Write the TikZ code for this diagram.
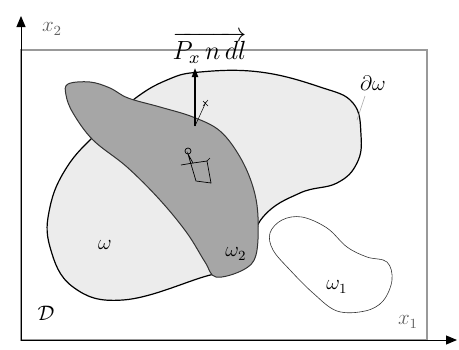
\documentclass[tikz,border=0pt]{standalone}
\usepackage{amsmath}
\usetikzlibrary{positioning, arrows.meta}

\begin{document}
\begin{tikzpicture}[
  x=1pt, y=-1pt,
  region/.style={draw=black, line width=1.2pt, fill=#1},
  region/.default={gray!15},
  lbl/.style={font=\large, scale=1.75, inner sep=1pt},
  >={Triangle[length=11pt, width=9pt]}
]
  \useasboundingbox (0,0) rectangle (459,349);
  % domain D and axes
  \draw[gray!80, line width=1.3pt] (21,50) rectangle (427,340);
  \draw[->, line width=1pt] (21,340) -- (21,16);
  \draw[->, line width=1pt] (21,340) -- (457,340);
  \node[lbl, text=gray!75!black] (xtwo) at (52,29) {$x_2$};
  \node[lbl, text=gray!75!black] (xone) at (408,322) {$x_1$};
  \node[lbl] (dom) at (46,313) {$\mathcal{D}$};
  % big region omega
  \draw[region] plot[smooth cycle, tension=0.7] coordinates {
    (200,72) (260,72) (320,87) (353,103) (361,135) (357,163) (337,183)
    (300,193) (263,217) (240,262) (200,278) (123,300) (73,287) (50,247)
    (50,207) (67,167) (97,133) (133,100) (167,80)};
  % omega 2
  \draw[region=gray!70, draw=black!80, line width=1pt] plot[smooth cycle, tension=0.6] coordinates {
    (68,84) (90,82) (110,88) (128,98) (160,107) (193,117) (220,131)
    (240,157) (253,187) (258,217) (256,255) (243,270) (216,277)
    (205,262) (187,233) (160,200) (127,167) (93,140) (73,113) (66,95)};
  % omega 1
  \draw[black!80, line width=0.6pt] plot[smooth cycle, tension=0.6] coordinates {
    (270,233) (282,220) (302,217) (327,228) (347,247) (367,257) (387,262)
    (392,280) (383,301) (365,311) (337,311) (313,293) (290,270) (273,250)};
  % labels
  \node[lbl] (om) at (105,245) {$\omega$};
  \node[lbl] (omtwo) at (236,254) {$\omega_2$};
  \node[lbl] (omone) at (337,287) {$\omega_1$};
  \node[lbl] (bd) at (373,83) {$\partial\omega$};
  \coordinate (bdfoot) at (357,120);
  \draw[gray!70, line width=0.6pt] (365,96) -- (bdfoot);
  % flux arrow and hand note
  \coordinate (foot) at (195,126);
  \node[lbl, scale=1.25, anchor=south west] (flux) at (170,66) {$\overrightarrow{P_x\,n\,dl}$};
  \draw[-{Triangle[length=9pt, width=6pt]}, line width=1.8pt] (foot) -- (195,68);
  \draw[line width=0.5pt] (foot) -- (206,102);
  \draw[line width=0.5pt] (203,101) -- (208,106) (208,100) -- (203,106);
  % small figure
  \draw[line width=0.7pt] (188,151) circle (3);
  \draw[line width=0.7pt] (188,154) -- (193,163) -- (207,161) -- (211,183) -- (196,181) -- cycle;
  \draw[line width=0.7pt] (181,165) -- (193,163);
  \draw[line width=0.7pt] (207,161) -- (210,158);
\end{tikzpicture}
\end{document}
